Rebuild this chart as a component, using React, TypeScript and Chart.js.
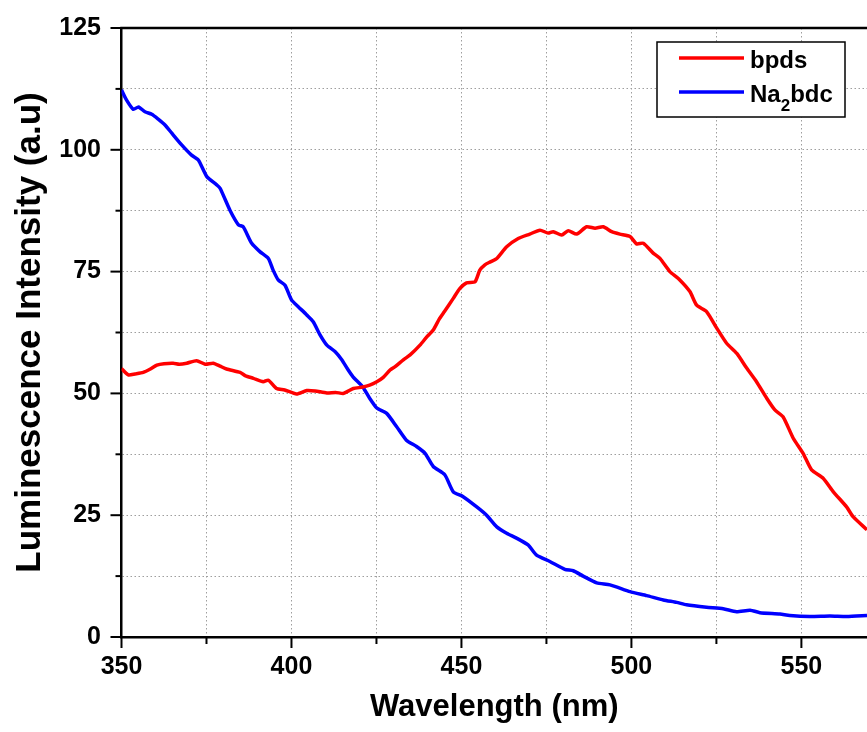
import React, { useEffect, useRef } from "react";
import { Chart, registerables } from "chart.js";

Chart.register(...registerables);

// ---- Data ----
const bpdsWavelength = [
  350, 352, 354, 356.4, 358.5, 360.4, 362.5, 365.2, 367, 369.2, 372.1, 374.6, 377, 379, 380.9,
  384.9, 386.5, 388.8, 391.7, 393.2, 395.6, 398, 401.5, 404.5, 407, 410.4, 413, 415.2, 416.5,
  418.2, 421, 423, 425.1, 427, 429, 430.5, 432.9, 434.9, 437.8, 439.8, 441.7, 443.5, 445, 447.6,
  449.5, 451.5, 454, 455.4, 456.9, 458.5, 460.4, 463.3, 466.7, 470.1, 473.1, 475.5, 477, 479.5,
  481.4, 483.9, 486.8, 489.3, 491.7, 494.2, 496.6, 499.6, 501.5, 503.5, 506.4, 508.4, 511.3,
  513.8, 517.2, 519.2, 522.1, 525.1, 528, 531, 533.9, 536.8, 539.8, 542.2, 544.6, 547.6, 550.5,
  553, 556.4, 559.4, 563.3, 565.2, 569.3,
];
const bpdsIntensity = [
  55.1, 53.8, 54.0, 54.3, 55.0, 55.8, 56.1, 56.2, 56.0, 56.2, 56.7, 56.0, 56.2, 55.6, 55.0,
  54.3, 53.6, 53.1, 52.4, 52.7, 51.0, 50.7, 49.9, 50.6, 50.5, 50.1, 50.2, 50.0, 50.4,
  51.0, 51.3, 51.7, 52.4, 53.3, 54.8, 55.5, 56.9, 57.9, 59.9, 61.6, 63.0, 65.3, 66.8, 69.5,
  71.5, 72.7, 72.9, 75.3, 76.4, 77.0, 77.7, 80.1, 81.8, 82.7, 83.5, 82.9, 83.2, 82.5,
  83.4, 82.7, 84.2, 83.9, 84.2, 83.2, 82.7, 82.2, 80.7, 80.8, 78.8, 77.7, 75.0,
  73.6, 70.9, 68.1, 66.8, 63.4, 60.3, 58.2, 55.2, 52.4, 49.0, 46.6, 45.2, 40.8, 37.7,
  34.3, 32.6, 29.8, 26.7, 24.7, 22.0,
];

const na2bdcWavelength = [
  350, 351.5, 353.5, 355, 356.9, 358.9, 360.8, 362.8, 364.8, 367.7, 370.6, 372.6, 375.1, 378,
  379, 381.9, 384.4, 385.8, 388.3, 390.7, 393.2, 394.6, 396.1, 398.1, 400, 402, 404.5, 406.4,
  408.4, 410.4, 412.8, 414.8, 416.5, 418.1, 421, 423, 425.1, 428, 430.9, 433.8, 436.8, 439.3,
  441.7, 445.1, 447.6, 450.5, 454.5, 457.4, 460.4, 463.3, 466.2, 469.6, 472.1, 476, 480.4,
  482.9, 485.8, 489.8, 493.7, 499.6, 504.5, 509.4, 513.3, 516.2, 522.1, 527, 530.9, 534.9,
  537.8, 543.7, 546.6, 552.5, 558.4, 563.3, 569.3,
];
const na2bdcIntensity = [
  112.3, 110.2, 108.3, 108.8, 107.8, 107.3, 106.3, 105.1, 103.4, 101.0, 98.9, 97.9, 94.5, 92.8,
  92.1, 87.6, 84.6, 84.2, 80.8, 79.1, 77.7, 75.3, 73.3, 72.2, 69.2, 67.8, 66.1, 64.7,
  62.0, 59.9, 58.6, 56.9, 55.0, 53.4, 51.3, 49.0, 47.0, 45.9, 43.2, 40.4, 39.1, 37.7,
  35.0, 33.3, 29.8, 28.8, 26.7, 25.0, 22.6, 21.3, 20.3, 18.9, 16.8, 15.5, 13.9,
  13.6, 12.5, 11.1, 10.7, 9.3, 8.5, 7.6, 7.1, 6.6, 6.1, 5.8, 5.2, 5.5,
  5.0, 4.7, 4.4, 4.2, 4.3, 4.2, 4.4,
];

const seriesLabels = ["bpds", "Na2bdc"];
const seriesColors = ["#ff0000", "#0000ff"];

const xMin = 350;
const xMax = 569.3;
const xStep = 25;
const xLabelEvery = 50;
const yMin = 0;
const yMax = 125;
const yStep = 12.5;
const yLabelEvery = 25;

const xTitle = "Wavelength (nm)";
const yTitle = "Luminescence Intensity (a.u)";

const FONT = "'Liberation Sans', Arial, Helvetica, sans-serif";

const isMult = (v: number, m: number) => Math.abs(v / m - Math.round(v / m)) < 1e-6;

const decorPlugin = {
  id: "decor",
  afterDraw(chart: any) {
    const { ctx, chartArea: a, scales } = chart;
    const xs = scales.x;
    const ys = scales.y;
    ctx.save();
    ctx.strokeStyle = "#000";
    ctx.lineCap = "butt";
    // top frame line
    ctx.lineWidth = 2.5;
    ctx.beginPath();
    ctx.moveTo(a.left - 1.25, a.top);
    ctx.lineTo(a.right, a.top);
    ctx.stroke();
    // tick marks (major longer, minor shorter), outside
    ctx.lineWidth = 2;
    xs.ticks.forEach((t: any) => {
      const px = xs.getPixelForValue(t.value);
      const len = isMult(t.value, xLabelEvery) ? 11 : 7;
      ctx.beginPath();
      ctx.moveTo(px, a.bottom);
      ctx.lineTo(px, a.bottom + len);
      ctx.stroke();
    });
    ys.ticks.forEach((t: any) => {
      const py = ys.getPixelForValue(t.value);
      const len = isMult(t.value, yLabelEvery) ? 11 : 6;
      ctx.beginPath();
      ctx.moveTo(a.left, py);
      ctx.lineTo(a.left - len, py);
      ctx.stroke();
    });

    // legend box
    const bw = 188;
    const bh = 75;
    const bx = a.right - 210;
    const by = a.top + 14;
    ctx.fillStyle = "#fff";
    ctx.fillRect(bx, by, bw, bh);
    ctx.lineWidth = 1.5;
    ctx.strokeStyle = "#000";
    ctx.strokeRect(bx, by, bw, bh);
    chart.data.datasets.forEach((ds: any, i: number) => {
      const ly = by + 16 + i * 34;
      ctx.strokeStyle = ds.borderColor;
      ctx.lineWidth = 3.5;
      ctx.beginPath();
      ctx.moveTo(bx + 22, ly);
      ctx.lineTo(bx + 87, ly);
      ctx.stroke();
      // text with numeric subscripts
      let tx = bx + 93;
      const base = ly + 10.3;
      ctx.fillStyle = "#000";
      ctx.textBaseline = "alphabetic";
      ctx.textAlign = "left";
      const parts = String(ds.label).split(/(\d+)/).filter((p: string) => p.length);
      parts.forEach((p: string) => {
        const sub = /^\d+$/.test(p);
        ctx.font = `bold ${sub ? 17 : 24}px ${FONT}`;
        ctx.fillText(p, tx, sub ? base + 8.5 : base);
        tx += ctx.measureText(p).width;
      });
    });
    ctx.restore();
  },
};

export default function App() {
  const ref = useRef<HTMLCanvasElement | null>(null);

  useEffect(() => {
    if (!ref.current) return;
    const chart = new Chart(ref.current, {
      type: "line",
      data: {
        datasets: [
          {
            label: seriesLabels[0],
            data: bpdsWavelength.map((x, i) => ({ x, y: bpdsIntensity[i] })),
            borderColor: seriesColors[0],
            backgroundColor: seriesColors[0],
            borderWidth: 3.5,
            pointRadius: 0,
            tension: 0.2,
            fill: false,
          },
          {
            label: seriesLabels[1],
            data: na2bdcWavelength.map((x, i) => ({ x, y: na2bdcIntensity[i] })),
            borderColor: seriesColors[1],
            backgroundColor: seriesColors[1],
            borderWidth: 3.5,
            pointRadius: 0,
            tension: 0.2,
            fill: false,
          },
        ],
      },
      options: {
        responsive: false,
        animation: false,
        devicePixelRatio: 1,
        layout: { padding: { top: 28, right: 0, bottom: 0, left: 0 } },
        plugins: {
          legend: { display: false },
          tooltip: { enabled: false },
        },
        scales: {
          x: {
            type: "linear",
            min: xMin,
            max: xMax,
            afterFit: (s: any) => {
              s.height = 95;
            },
            ticks: {
              stepSize: xStep,
              includeBounds: false,
              autoSkip: false,
              maxRotation: 0,
              padding: 5,
              color: "#000",
              font: { family: FONT, size: 25, weight: "bold" },
              callback: (v: any) => (isMult(Number(v), xLabelEvery) ? String(v) : ""),
            },
            grid: {
              color: "#9e9e9e",
              lineWidth: 1,
              drawTicks: true,
              tickLength: 10,
              tickWidth: 0,
            },
            border: { display: true, color: "#000", width: 2.5, dash: [1.5, 2.5] },
            title: {
              display: true,
              text: xTitle,
              color: "#000",
              font: { family: FONT, size: 31, weight: "bold" },
              padding: { top: 0, bottom: 6 },
            },
          },
          y: {
            type: "linear",
            min: yMin,
            max: yMax,
            afterFit: (s: any) => {
              s.width = 121.5;
            },
            ticks: {
              stepSize: yStep,
              autoSkip: false,
              padding: 10.5,
              color: "#000",
              font: { family: FONT, size: 25, weight: "bold" },
              callback: (v: any) => (isMult(Number(v), yLabelEvery) ? String(v) : ""),
            },
            grid: {
              color: "#9e9e9e",
              lineWidth: 1,
              drawTicks: true,
              tickLength: 10,
              tickWidth: 0,
            },
            border: { display: true, color: "#000", width: 2.5, dash: [1.5, 2.5] },
            title: {
              display: true,
              text: yTitle,
              color: "#000",
              font: { family: FONT, size: 35, weight: "bold" },
              padding: { top: 9, bottom: 0 },
            },
          },
        },
      },
      plugins: [decorPlugin],
    } as any);
    return () => chart.destroy();
  }, []);

  return (
    <div style={{ position: "absolute", left: 0, top: 0, width: 867, height: 732, background: "#fff" }}>
      <canvas ref={ref} width={867} height={732} style={{ display: "block" }} />
    </div>
  );
}
